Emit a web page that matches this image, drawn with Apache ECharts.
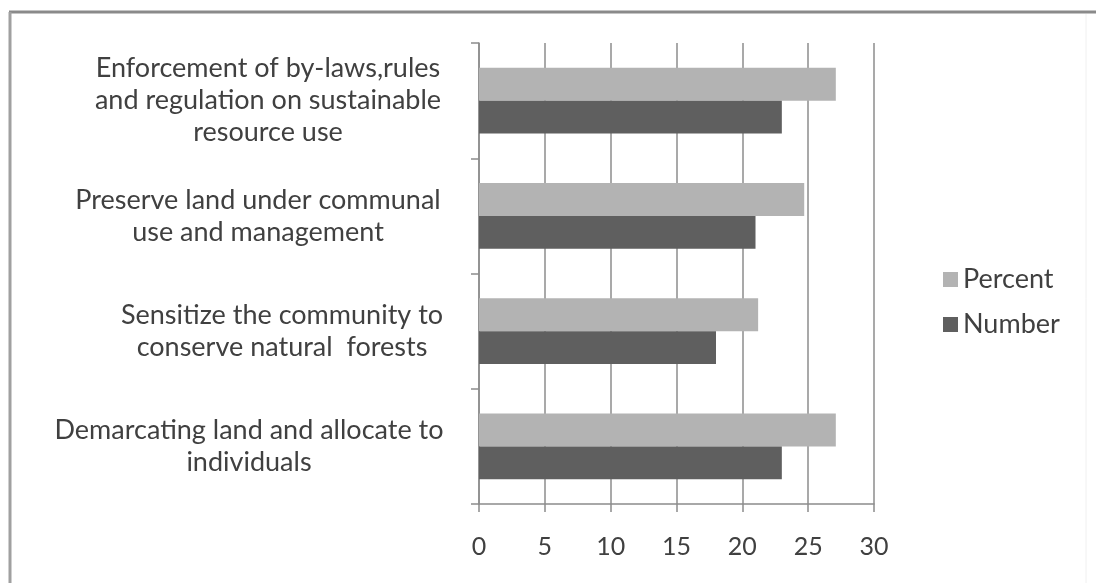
<!DOCTYPE html>
<html>
<head>
<meta charset="utf-8">
<script src="https://cdn.jsdelivr.net/npm/echarts@6/dist/echarts.min.js"></script>
<style>
  html, body { margin: 0; padding: 0; background: #ffffff; }
  #chart { width: 1096px; height: 583px; }
</style>
</head>
<body>
<div id="chart"></div>
<script>
// Strategies for sustainable land and forest management (top to bottom)
const categories = [
  'Enforcement of by-laws,rules\nand regulation on sustainable\nresource use',
  'Preserve land under communal\nuse and management',
  'Sensitize the community to\nconserve natural  forests',
  'Demarcating land and allocate to\nindividuals'
];
const percentValues = [27.1, 24.7, 21.2, 27.1];
const numberValues = [23, 21, 18, 23];
const xTicks = [0, 5, 10, 15, 20, 25, 30];

const textColor = '#404040';
const lineColor = '#8c8c8c';
const fontFamily = 'Lato, "Open Sans", sans-serif';
const fontSize = 27;

// label block widths: lines are centred inside a right-aligned block
const blockWidths = [362, 382, 334, 400];
const rich = {};
blockWidths.forEach((w, i) => {
  rich['c' + i] = {
    width: w, align: 'center', fontSize: fontSize, lineHeight: 32,
    color: textColor, fontFamily: fontFamily
  };
});

const chart = echarts.init(document.getElementById('chart'), null, { renderer: 'canvas' });
chart.setOption({
  backgroundColor: '#ffffff',
  animation: false,
  graphic: [
    { type: 'line', shape: { x1: 9, y1: 12, x2: 1096, y2: 12 }, style: { stroke: '#8a8a8a', lineWidth: 3 } },
    { type: 'line', shape: { x1: 10, y1: 12, x2: 10, y2: 583 }, style: { stroke: '#a0a0a0', lineWidth: 3 } },
    { type: 'line', shape: { x1: 1086, y1: 14, x2: 1086, y2: 583 }, style: { stroke: '#f0f0f0', lineWidth: 1 } }
  ],
  grid: { left: 479, right: 222, top: 43, bottom: 79, containLabel: false },
  legend: {
    orient: 'vertical',
    left: 938,
    top: 261,
    itemWidth: 15,
    itemHeight: 15,
    itemGap: 18,
    itemStyle: { borderWidth: 0 },
    icon: 'rect',
    data: ['Percent', 'Number'],
    textStyle: { color: textColor, fontSize: fontSize, fontFamily: fontFamily, padding: [0, 0, 0, 0] }
  },
  xAxis: {
    type: 'value',
    min: xTicks[0],
    max: xTicks[xTicks.length - 1],
    interval: 5,
    axisLine: { show: true, lineStyle: { color: lineColor, width: 1.5 } },
    axisTick: { show: true, length: 8, lineStyle: { color: lineColor, width: 1.5 } },
    axisLabel: { margin: 30, color: textColor, fontSize: 25, fontFamily: fontFamily },
    splitLine: { show: true, lineStyle: { color: lineColor, width: 1.5 } }
  },
  yAxis: {
    type: 'category',
    inverse: true,
    data: categories,
    axisLine: { show: true, lineStyle: { color: lineColor, width: 1.5 } },
    axisTick: { show: true, length: 8, lineStyle: { color: lineColor, width: 1.5 } },
    axisLabel: {
      margin: 30,
      align: 'right',
      rich: rich,
      formatter: function (value, index) {
        return value.split('\n').map(l => '{c' + index + '|' + l + '}').join('\n');
      }
    }
  },
  series: [
    {
      name: 'Percent',
      type: 'bar',
      data: percentValues,
      barGap: '0%',
      barCategoryGap: '43%',
      itemStyle: { color: '#b3b3b3' }
    },
    {
      name: 'Number',
      type: 'bar',
      data: numberValues,
      barGap: '0%',
      barCategoryGap: '43%',
      itemStyle: { color: '#5f5f5f' }
    }
  ]
});
</script>
</body>
</html>
